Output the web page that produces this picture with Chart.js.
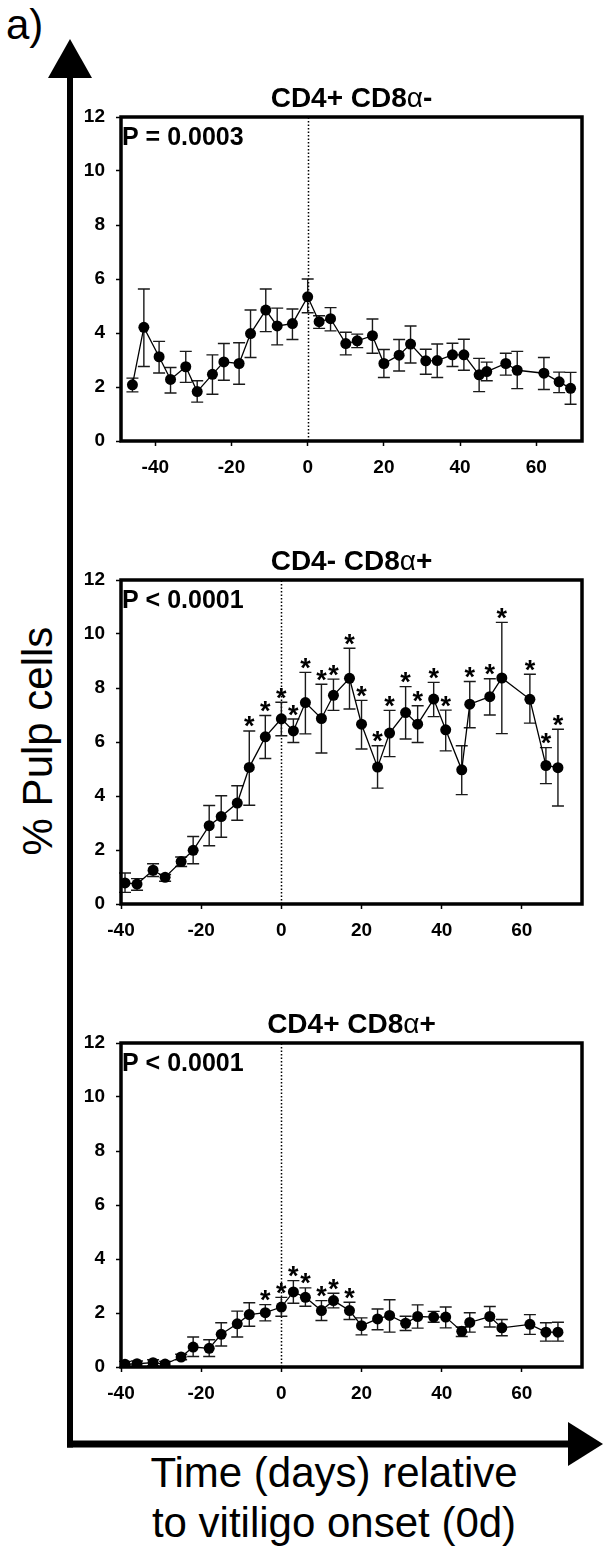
<!DOCTYPE html>
<html>
<head>
<meta charset="utf-8">
<script src="https://cdn.jsdelivr.net/npm/chart.js@4.4.1/dist/chart.umd.min.js"></script>
<style>
  html, body { margin: 0; padding: 0; background: #fff; }
  #page { position: relative; width: 603px; height: 1552px; overflow: hidden;
          font-family: "Liberation Sans", Arial, sans-serif; color: #000; }
  .panel { position: absolute; left: 0; width: 603px; height: 411px; }
  .title { position: absolute; left: 121px; width: 461px; text-align: center;
           font-weight: bold; font-size: 28px; line-height: 30px; white-space: nowrap; }
  .title .greek { font-weight: normal; }
  .big { position: absolute; font-size: 42px; line-height: 42px; white-space: nowrap; }
</style>
</head>
<body>
<div id="page">
  <svg width="603" height="1552" style="position:absolute;left:0;top:0">
    <line x1="70" y1="74" x2="70" y2="1447.5" stroke="#000" stroke-width="6"/>
    <polygon points="70,39 48,78 92,78" fill="#000"/>
    <line x1="67" y1="1444" x2="572" y2="1444" stroke="#000" stroke-width="7"/>
    <polygon points="603,1444 568,1422 568,1466" fill="#000"/>
  </svg>

  <div class="big" style="left:6px;top:4px;">a)</div>
  <div class="big" style="left:-112px;top:720px;width:300px;text-align:center;transform:rotate(-90deg);">% Pulp cells</div>
  <div class="big" style="left:84px;top:1448px;width:500px;text-align:center;line-height:50px;">Time (days) relative<br>to vitiligo onset (0d)</div>

  <div class="panel" style="top:75px;"><canvas id="c1"></canvas></div>
  <div class="panel" style="top:538px;"><canvas id="c2"></canvas></div>
  <div class="panel" style="top:1001px;"><canvas id="c3"></canvas></div>

  <div class="title" style="top:83px;">CD4+ CD8<span class="greek">α</span>-</div>
  <div class="title" style="top:546px;">CD4- CD8<span class="greek">α</span>+</div>
  <div class="title" style="top:1009px;">CD4+ CD8<span class="greek">α</span>+</div>
</div>

<script>
// tick labels
const xTicks = [-40, -20, 0, 20, 40, 60];
const yTicks = [0, 2, 4, 6, 8, 10, 12];

// CD4+ CD8a- (days relative to onset, mean and error bar ends)
const days1 = [-46, -43, -39, -36, -32, -29, -25, -22, -18, -15, -11, -8, -4, 0, 3, 6, 10, 13, 17, 20, 24, 27, 31, 34, 38, 41, 45, 47, 52, 55, 62, 66, 69];
const cd4Mean = [2.08, 4.21, 3.12, 2.28, 2.75, 1.83, 2.47, 2.93, 2.87, 3.98, 4.85, 4.26, 4.35, 5.34, 4.42, 4.53, 3.61, 3.71, 3.90, 2.87, 3.18, 3.59, 2.97, 2.98, 3.19, 3.19, 2.45, 2.57, 2.87, 2.62, 2.51, 2.19, 1.95];
const cd4Upper = [2.33, 5.63, 3.69, 2.72, 3.32, 2.23, 3.19, 3.61, 3.64, 4.85, 5.63, 4.92, 4.89, 6.00, 4.64, 4.94, 4.03, 3.96, 4.52, 3.39, 3.76, 4.26, 3.40, 3.59, 3.62, 3.77, 3.06, 2.92, 3.25, 3.32, 3.09, 2.55, 2.54];
const cd4Lower = [1.82, 2.76, 2.52, 1.78, 2.17, 1.44, 1.73, 2.25, 2.10, 3.09, 4.05, 3.56, 3.76, 4.75, 4.17, 4.08, 3.19, 3.46, 3.25, 2.35, 2.59, 2.89, 2.47, 2.35, 2.76, 2.62, 1.83, 2.23, 2.44, 1.94, 1.91, 1.79, 1.36];

// days shared by the two CD8a+ panels
const days2 = [-39, -36, -32, -29, -25, -22, -18, -15, -11, -8, -4, 0, 3, 6, 10, 13, 17, 20, 24, 27, 31, 34, 38, 41, 45, 47, 52, 55, 62, 66, 69];

// CD4- CD8a+
const cd8Mean = [0.78, 0.74, 1.25, 0.99, 1.57, 1.99, 2.90, 3.24, 3.74, 5.06, 6.19, 6.86, 6.41, 7.46, 6.87, 7.73, 8.36, 6.66, 5.07, 6.33, 7.09, 6.66, 7.59, 6.45, 4.97, 7.40, 7.68, 8.37, 7.58, 5.13, 5.05];
const cd8Upper = [1.15, 0.94, 1.49, 1.09, 1.74, 2.50, 3.65, 4.01, 4.38, 6.41, 6.98, 7.47, 6.85, 8.58, 8.14, 8.33, 9.47, 7.54, 5.86, 7.17, 8.05, 7.34, 8.21, 7.18, 5.86, 8.24, 8.34, 10.43, 8.51, 5.79, 6.47];
const cd8Lower = [0.43, 0.51, 1.02, 0.84, 1.39, 1.49, 2.16, 2.47, 3.10, 3.66, 5.39, 6.23, 5.98, 6.30, 5.59, 7.17, 7.22, 5.74, 4.29, 5.46, 6.11, 5.98, 6.94, 5.67, 4.05, 6.53, 7.00, 6.31, 6.70, 4.46, 3.63];
const cd8Star = [0, 0, 0, 0, 0, 0, 0, 0, 0, 1, 1, 1, 1, 1, 1, 1, 1, 1, 1, 1, 1, 1, 1, 1, 0, 1, 1, 1, 1, 1, 1];

// CD4+ CD8a+
const dpMean = [0.10, 0.12, 0.16, 0.11, 0.37, 0.74, 0.69, 1.21, 1.60, 1.94, 2.01, 2.22, 2.78, 2.58, 2.09, 2.46, 2.09, 1.53, 1.78, 1.91, 1.62, 1.87, 1.85, 1.85, 1.32, 1.65, 1.87, 1.45, 1.58, 1.29, 1.29];
const dpUpper = [0.21, 0.22, 0.27, 0.21, 0.47, 1.11, 1.01, 1.64, 2.07, 2.38, 2.31, 2.58, 3.20, 2.93, 2.46, 2.73, 2.40, 1.82, 2.15, 2.49, 1.88, 2.30, 2.06, 2.22, 1.48, 2.01, 2.24, 1.76, 1.94, 1.64, 1.66];
const dpLower = [0.00, 0.02, 0.05, 0.02, 0.27, 0.39, 0.39, 0.78, 1.11, 1.51, 1.71, 1.88, 2.36, 2.25, 1.72, 2.19, 1.76, 1.19, 1.38, 1.29, 1.35, 1.44, 1.66, 1.45, 1.13, 1.29, 1.48, 1.16, 1.21, 0.96, 0.96];
const dpStar = [0, 0, 0, 0, 0, 0, 0, 0, 0, 0, 1, 1, 1, 1, 1, 1, 1, 0, 0, 0, 0, 0, 0, 0, 0, 0, 0, 0, 0, 0, 0];

const FONT = "'Liberation Sans', Arial, sans-serif";

function makePanel(id, days, mean, upper, lower, star, xMin, xMax, pText) {
    // error bars, onset line, frame, significance stars and P value
    const decor = {
        id: 'decor',
        beforeDatasetsDraw(chart) {
            const { ctx, chartArea: a, scales: { x, y } } = chart;
            ctx.save();
            const x0 = Math.round(x.getPixelForValue(0)) + 0.5;
            ctx.strokeStyle = '#000';
            ctx.lineWidth = 1.5;
            ctx.setLineDash([1.5, 2]);
            ctx.beginPath();
            ctx.moveTo(x0, a.bottom);
            ctx.lineTo(x0, a.top);
            ctx.stroke();
            ctx.setLineDash([]);

            ctx.strokeStyle = '#1a1a1a';
            ctx.lineWidth = 1.4;
            days.forEach((d, i) => {
                const px = x.getPixelForValue(d);
                const t = y.getPixelForValue(upper[i]);
                const b = y.getPixelForValue(lower[i]);
                ctx.beginPath();
                ctx.moveTo(px, t); ctx.lineTo(px, b);
                ctx.moveTo(px - 6, t); ctx.lineTo(px + 6, t);
                ctx.moveTo(px - 6, b); ctx.lineTo(px + 6, b);
                ctx.stroke();
            });
            ctx.restore();
        },
        afterDatasetsDraw(chart) {
            const { ctx, chartArea: a, scales: { x, y } } = chart;
            ctx.save();
            ctx.fillStyle = '#000';
            ctx.font = 'bold 27px ' + FONT;
            ctx.textAlign = 'center';
            ctx.textBaseline = 'alphabetic';
            const m = ctx.measureText('*');
            const mid = (m.actualBoundingBoxAscent - m.actualBoundingBoxDescent) / 2;
            star.forEach((s, i) => {
                if (!s) return;
                const px = x.getPixelForValue(days[i]);
                const t = y.getPixelForValue(upper[i]);
                ctx.fillText('*', px, t - 9 + mid);
            });

            ctx.strokeStyle = '#000';
            ctx.lineWidth = 3.5;
            ctx.strokeRect(a.left, a.top, a.right - a.left, a.bottom - a.top);

            ctx.font = 'bold 25px ' + FONT;
            ctx.textAlign = 'left';
            ctx.fillText(pText, a.left + 1, a.top + 28);
            ctx.restore();
        }
    };

    return new Chart(document.getElementById(id), {
        type: 'line',
        data: {
            datasets: [{
                data: days.map((d, i) => ({ x: d, y: mean[i] })),
                borderColor: '#000',
                borderWidth: 1.3,
                pointRadius: 5.5,
                pointHoverRadius: 5.5,
                pointBackgroundColor: '#000',
                pointBorderWidth: 0,
                tension: 0,
                fill: false,
            }]
        },
        options: {
            responsive: true,
            maintainAspectRatio: false,
            animation: false,
            events: [],
            layout: { padding: { top: 42, right: 21, left: 0, bottom: 0 } },
            scales: {
                x: {
                    type: 'linear',
                    min: xMin,
                    max: xMax,
                    afterBuildTicks: s => { s.ticks = xTicks.map(v => ({ value: v })); },
                    afterFit: s => { s.height = 45; },
                    grid: { drawOnChartArea: false, drawTicks: true, tickLength: 5, tickWidth: 1.5, tickColor: '#000' },
                    border: { display: false },
                    ticks: { color: '#000', padding: 10, maxRotation: 0, font: { family: FONT, size: 19, weight: 'bold' } },
                },
                y: {
                    min: 0,
                    max: 12,
                    afterBuildTicks: s => { s.ticks = yTicks.map(v => ({ value: v })); },
                    afterFit: s => { s.width = 121; },
                    grid: { drawOnChartArea: false, drawTicks: true, tickLength: 5, tickWidth: 1.5, tickColor: '#000' },
                    border: { display: false },
                    ticks: { color: '#000', padding: 11, font: { family: FONT, size: 19, weight: 'bold' } },
                },
            },
            plugins: {
                legend: { display: false },
                tooltip: { enabled: false },
                title: { display: false },
            },
        },
        plugins: [decor],
    });
}

makePanel('c1', days1, cd4Mean, cd4Upper, cd4Lower, days1.map(() => 0), -49, 72, 'P = 0.0003');
makePanel('c2', days2, cd8Mean, cd8Upper, cd8Lower, cd8Star, -40, 75, 'P < 0.0001');
makePanel('c3', days2, dpMean, dpUpper, dpLower, dpStar, -40, 75, 'P < 0.0001');
</script>
</body>
</html>
